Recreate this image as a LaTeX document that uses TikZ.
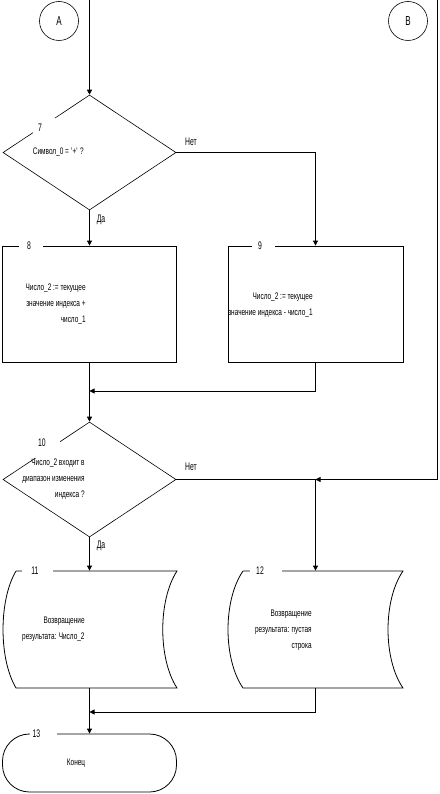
\documentclass[tikz,border=0pt]{standalone}
\usepackage{fontspec}
\setmainfont[FakeStretch=0.68]{Liberation Sans}
\newfontfamily\lblfont[FakeStretch=0.62]{Liberation Sans}
\usetikzlibrary{arrows.meta,shapes.geometric}
\begin{document}
\begin{tikzpicture}[x=1pt,y=-1pt,
  line width=0.8pt,
  arr/.style={-{Triangle[length=5pt,width=5pt]}},
  txt/.style={font=\fontsize{9.5}{16}\selectfont, align=right, anchor=east, inner sep=0},
  lbl/.style={font=\lblfont\fontsize{11}{12}\selectfont, inner sep=0},
  procbox/.style={draw, rectangle, inner sep=0},
  dia/.style={draw, diamond, inner sep=0, line width=0.6pt},
  ghost/.style={rectangle, inner sep=0},
  conn/.style={draw, circle, minimum size=39pt, inner sep=0, line width=0.6pt, font=\lblfont\fontsize{13}{13}\selectfont},
  gapfill/.style={fill=white, draw=none}
]
\fill[white] (0,0) rectangle (439,794);
\useasboundingbox (0,0) rectangle (439,794);

% connectors A and B
\node[conn] (A) at (59,21) {A};
\node[conn] (B) at (408,21) {B};
\coordinate (inA) at (89.5,0);
\coordinate (inB) at (437,0);

% decision 7
\node[dia, minimum width=173pt, minimum height=115pt] (d7) at (89.5,152.5) {};
\fill[gapfill] (33,118) rectangle (55,133);
\node[lbl] (n7) at (40,128) {7};
\node[txt] (t7) at (84,152) {Символ\_0 = \textquotesingle+\textquotesingle\ ?};
\node[lbl] (no7) at (191,142) {Нет};
\node[lbl] (yes7) at (101,220) {Да};

% process 8
\node[procbox, minimum width=174pt, minimum height=116pt] (b8) at (89.5,304) {};
\fill[gapfill] (19,243) rectangle (43,249);
\node[lbl] (n8) at (29,246) {8};
\node[txt] (t8) at (86,304.5) {Число\_2 := текущее\\значение индекса +\\число\_1};

% process 9
\node[procbox, minimum width=175pt, minimum height=116pt] (b9) at (315.5,304) {};
\fill[gapfill] (252,243) rectangle (275,249);
\node[lbl] (n9) at (260,246) {9};
\node[txt] (t9) at (313,305.5) {Число\_2 := текущее\\значение индекса - число\_1};

% merge 1
\coordinate (m1) at (89.5,391);

% decision 10
\node[dia, minimum width=173pt, minimum height=115pt] (d10) at (89.5,479.5) {};
\fill[gapfill] (35,441) rectangle (60,458);
\node[lbl] (n10) at (42,443) {10};
\node[txt] (t10) at (85,479) {Число\_2 входит в\\диапазон изменения\\индекса ?};
\node[lbl] (no10) at (191,467) {Нет};
\node[lbl] (yes10) at (101,546) {Да};
\coordinate (m2) at (315.5,479.5);

% output 11 (stored data shape)
\node[ghost, minimum width=174pt, minimum height=117pt] (b11) at (89.5,629.5) {};
\draw (16,571) -- (177,571)
      .. controls (158,600) and (158,659) .. (177,688)
      -- (16,688)
      .. controls (-1.3,659) and (-1.3,600) .. (16,571);
\fill[gapfill] (22,568) rectangle (53,574);
\node[lbl] (n11) at (35,571) {11};
\node[txt] (t11) at (85,629.5) {Возвращение\\результата: Число\_2};

% output 12
\node[ghost, minimum width=175pt, minimum height=117pt] (b12) at (315.5,629.5) {};
\draw (243,571) -- (403,571)
      .. controls (383,600) and (383,659) .. (403,688)
      -- (243,688)
      .. controls (223,659) and (223,600) .. (243,571);
\fill[gapfill] (250,568) rectangle (282,574);
\node[lbl] (n12) at (260,571) {12};
\node[txt] (t12) at (312,630) {Возвращение\\результата: пустая\\строка};

% merge 3
\coordinate (m3) at (89.5,712);

% terminator 13
\node[draw, rectangle, rounded corners=27pt, minimum width=174pt, minimum height=58pt, inner sep=0] (e13) at (89.5,763) {};
\fill[gapfill] (30,731) rectangle (57,737);
\node[lbl] (n13) at (36.5,734) {13};
\node[txt, anchor=center] (t13) at (76,763) {Конец};

% connectors
\draw[arr] (inA) -- (d7.north);
\draw[arr] (d7.east) -| (b9.north);
\draw[arr] (d7.south) -- (b8.north);
\draw (b8.south) -- (m1);
\draw[arr] (b9.south) |- (m1);
\draw[arr] (m1) -- (d10.north);
\draw (d10.east) -- (m2);
\draw[arr] (inB) |- (m2);
\draw[arr] (m2) -- (b12.north);
\draw[arr] (d10.south) -- (b11.north);
\draw (b11.south) -- (m3);
\draw[arr] (b12.south) |- (m3);
\draw[arr] (m3) -- (e13.north);
\end{tikzpicture}
\end{document}
